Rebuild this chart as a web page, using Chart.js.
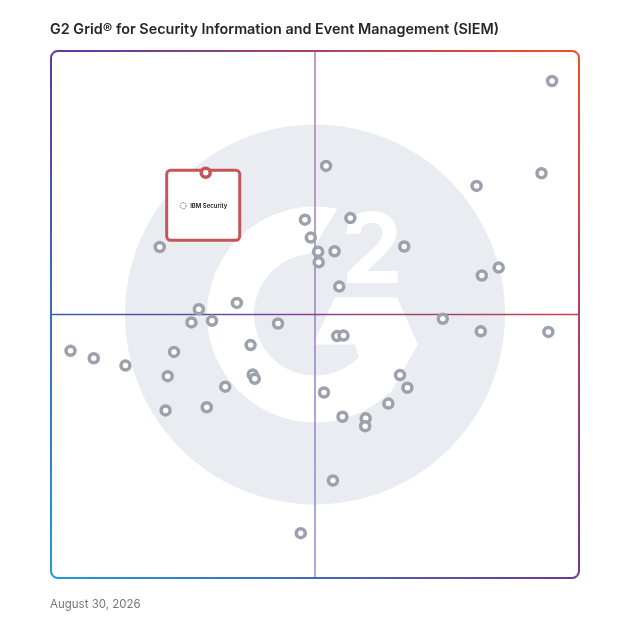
<!DOCTYPE html>
<html>
<head>
<meta charset="utf-8">
<script src="https://cdn.jsdelivr.net/npm/chart.js@4.4.1/dist/chart.umd.min.js"></script>
<style>
  html, body { margin: 0; padding: 0; background: #fff; }
  #wrap { position: relative; width: 628px; height: 628px; }
  #grid { position: absolute; left: 0; top: 0; }
  #title { position: absolute; left: 50px; top: 20px; font: 600 14.4px Inter, sans-serif; color: #262626; white-space: nowrap; }
  #date { position: absolute; left: 50px; top: 597px; font: 400 11.5px Inter, sans-serif; color: #777; }
</style>
</head>
<body>
<div id="wrap">
  <canvas id="grid" width="628" height="628"></canvas>
  <div id="title">G2 Grid® for Security Information and Event Management (SIEM)</div>
  <div id="date">August 30, 2026</div>
</div>
<script>
// Market presence (x) / satisfaction (y), 0-100, quadrant split at 50
const vendorX = [94.9, 92.9, 80.6, 81.6, 84.8, 52.1, 48.1, 56.7, 49.2, 50.6,
                 53.7, 50.7, 66.9, 54.6, 20.6, 35.2, 28.0, 26.6, 30.5, 43.0,
                 3.7, 8.1, 14.1, 23.3, 37.8, 22.1, 38.2, 38.6, 33.0, 29.5,
                 21.7, 74.2, 54.2, 55.4, 81.4, 94.2, 66.1, 67.5, 51.7, 63.9,
                 55.2, 59.6, 59.5, 53.4, 47.3];
const vendorY = [94.3, 76.8, 74.4, 57.4, 58.9, 78.2, 68.0, 68.3, 64.6, 61.9,
                 62.0, 59.9, 62.9, 55.3, 62.8, 52.2, 51.0, 48.5, 48.8, 48.3,
                 43.1, 41.7, 40.3, 42.9, 44.2, 38.3, 38.6, 37.8, 36.3, 32.4,
                 31.8, 49.2, 45.9, 46.0, 46.8, 46.7, 38.5, 36.1, 35.2, 33.1,
                 30.6, 30.3, 28.8, 18.5, 8.5];

const highlightName = 'IBM Security';
const highlightX = [29.3];
const highlightY = [76.9];

const axisMin = 0;
const axisMax = 100;
const splitAt = 50;

const GRAY = '#9ca1ac';
const RED = '#c4565a';

function toPoints(xs, ys) {
    return xs.map((x, i) => ({ x: x, y: ys[i] }));
}

// gray G2 watermark + quadrant lines + gradient frame
const backdrop = {
    id: 'backdrop',
    beforeDatasetsDraw(chart) {
        const { ctx, chartArea: a, scales } = chart;
        const cx = scales.x.getPixelForValue(splitAt);
        const cy = scales.y.getPixelForValue(splitAt);
        const k = (a.right - a.left) / 528;
        const deg = Math.PI / 180;
        ctx.save();

        ctx.fillStyle = '#e9ecf0';
        ctx.beginPath();
        ctx.arc(cx, cy, 190 * k, 0, Math.PI * 2);
        ctx.fill();

        // the "G"
        ctx.fillStyle = '#fff';
        ctx.beginPath();
        ctx.arc(cx, cy, 108 * k, 45 * deg, 282 * deg);
        ctx.arc(cx, cy, 61 * k, 265 * deg, 45 * deg, true);
        ctx.closePath();
        ctx.fill();
        const chevron = [[20, -17], [82, -17], [103, 30], [75, 79], [45, 47], [40, 30], [-2, 30]];
        ctx.beginPath();
        chevron.forEach(([dx, dy], i) => {
            if (i === 0) ctx.moveTo(cx + dx * k, cy + dy * k);
            else ctx.lineTo(cx + dx * k, cy + dy * k);
        });
        ctx.closePath();
        ctx.fill();

        // the "2"
        ctx.font = '700 ' + Math.round(98 * k) + 'px Inter, sans-serif';
        ctx.textAlign = 'center';
        ctx.textBaseline = 'alphabetic';
        ctx.fillText('2', cx + 57 * k, cy - 32 * k);

        // quadrant lines
        ctx.lineWidth = 1.5;
        let g = ctx.createLinearGradient(0, a.top, 0, a.bottom);
        g.addColorStop(0, '#b27ab0');
        g.addColorStop(0.5, '#9c80bc');
        g.addColorStop(1, '#8a8ad8');
        ctx.strokeStyle = g;
        ctx.beginPath();
        ctx.moveTo(cx, a.top);
        ctx.lineTo(cx, a.bottom);
        ctx.stroke();
        g = ctx.createLinearGradient(a.left, 0, a.right, 0);
        g.addColorStop(0, '#3b5bb6');
        g.addColorStop(0.5, '#844a8c');
        g.addColorStop(1, '#cc3d4a');
        ctx.strokeStyle = g;
        ctx.beginPath();
        ctx.moveTo(a.left, cy);
        ctx.lineTo(a.right, cy);
        ctx.stroke();

        // frame, one gradient per side
        const r = 7;
        const TL = '#5b3aa8', TR = '#f24d26', BL = '#1e9bd7', BR = '#6e3797';
        const L = a.left, T = a.top, R = a.right, B = a.bottom;
        ctx.lineWidth = 2;
        const side = (x0, y0, x1, y1, c0, c1, draw) => {
            const sg = ctx.createLinearGradient(x0, y0, x1, y1);
            sg.addColorStop(0, c0);
            sg.addColorStop(1, c1);
            ctx.strokeStyle = sg;
            ctx.beginPath();
            draw();
            ctx.stroke();
        };
        side(L, T, R, T, TL, TR, () => {
            ctx.arc(L + r, T + r, r, 225 * deg, 270 * deg);
            ctx.lineTo(R - r, T);
            ctx.arc(R - r, T + r, r, 270 * deg, 315 * deg);
        });
        side(R, T, R, B, TR, BR, () => {
            ctx.arc(R - r, T + r, r, 315 * deg, 360 * deg);
            ctx.lineTo(R, B - r);
            ctx.arc(R - r, B - r, r, 0, 45 * deg);
        });
        side(L, B, R, B, BL, BR, () => {
            ctx.arc(R - r, B - r, r, 45 * deg, 90 * deg);
            ctx.lineTo(L + r, B);
            ctx.arc(L + r, B - r, r, 90 * deg, 135 * deg);
        });
        side(L, T, L, B, TL, BL, () => {
            ctx.arc(L + r, B - r, r, 135 * deg, 180 * deg);
            ctx.lineTo(L, T + r);
            ctx.arc(L + r, T + r, r, 180 * deg, 225 * deg);
        });

        // label card hanging under the highlighted vendor
        const meta = chart.getDatasetMeta(0);
        const p = meta.data[0];
        if (p) {
            const w = 73, h = 70;
            const bx = p.x - 39, by = p.y - 2.5;
            ctx.fillStyle = '#fff';
            ctx.strokeStyle = RED;
            ctx.lineWidth = 3;
            ctx.beginPath();
            ctx.roundRect(bx, by, w, h, 4);
            ctx.fill();
            ctx.stroke();

            const ty = by + h / 2 + 0.5;
            ctx.strokeStyle = '#333';
            ctx.lineWidth = 0.8;
            ctx.setLineDash([1.2, 1]);
            ctx.beginPath();
            ctx.arc(bx + 16.5, ty, 3, 0, Math.PI * 2);
            ctx.stroke();
            ctx.setLineDash([]);
            ctx.fillStyle = '#1a1a1a';
            ctx.font = '600 6px Inter, sans-serif';
            ctx.textAlign = 'left';
            ctx.textBaseline = 'middle';
            ctx.fillText(highlightName, bx + 23.5, ty);
        }
        ctx.restore();
    }
};

new Chart(document.getElementById('grid'), {
    type: 'scatter',
    data: {
        datasets: [
            {
                label: highlightName,
                data: toPoints(highlightX, highlightY),
                pointRadius: 4.5,
                pointBorderWidth: 3.5,
                pointBackgroundColor: '#fff',
                pointBorderColor: RED,
                clip: false
            },
            {
                label: 'Vendors',
                data: toPoints(vendorX, vendorY),
                pointRadius: 4.5,
                pointBorderWidth: 3.5,
                pointBackgroundColor: '#fff',
                pointBorderColor: GRAY,
                clip: false
            }
        ]
    },
    options: {
        responsive: false,
        animation: false,
        devicePixelRatio: 1,
        layout: { padding: { left: 51, top: 51, right: 49, bottom: 50 } },
        scales: {
            x: { type: 'linear', min: axisMin, max: axisMax, display: false },
            y: { type: 'linear', min: axisMin, max: axisMax, display: false }
        },
        plugins: {
            legend: { display: false },
            tooltip: { enabled: false }
        }
    },
    plugins: [backdrop]
});
</script>
</body>
</html>
